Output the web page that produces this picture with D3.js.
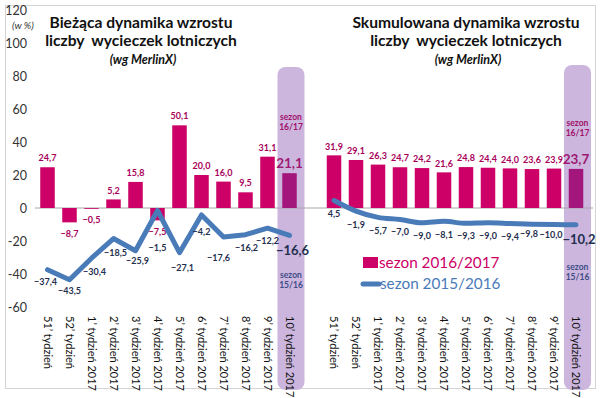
<!DOCTYPE html>
<html><head><meta charset="utf-8">
<script src="https://cdn.jsdelivr.net/npm/d3@7"></script>
<style>
html,body{margin:0;padding:0;background:#fff;}
svg{display:block;font-family:Lato,"Open Sans",sans-serif;}
text{white-space:pre;}
</style></head>
<body>
<svg id="chart" width="600" height="398"></svg>
<script>
const categories = ["51’ tydzień","52’ tydzień","1’ tydzień 2017","2’ tydzień 2017","3’ tydzień 2017","4’ tydzień 2017","5’ tydzień 2017","6’ tydzień 2017","7’ tydzień 2017","8’ tydzień 2017","9’ tydzień 2017","10’ tydzień 2017"];
const currentBars = [24.7,-8.7,-0.5,5.2,15.8,-7.5,50.1,20.0,16.0,9.5,31.1,21.1];
const currentLine = [-37.4,-43.5,-30.4,-18.5,-25.9,-1.5,-27.1,-4.2,-17.6,-16.2,-12.2,-16.6];
const cumulativeBars = [31.9,29.1,26.3,24.7,24.2,21.6,24.8,24.4,24.0,23.6,23.9,23.7];
const cumulativeLine = [4.5,-1.9,-5.7,-7.0,-9.0,-8.1,-9.3,-9.0,-9.4,-9.8,-10.0,-10.2];
const yTicks = [-60,-40,-20,0,20,40,60,80,100,120];
const seriesNames = ["sezon 2016/2017","sezon 2015/2016"];
const titlesLeft = ["Bieżąca dynamika wzrostu","liczby  wycieczek lotniczych","(wg MerlinX)"];
const titlesRight = ["Skumulowana dynamika wzrostu","liczby  wycieczek lotniczych","(wg MerlinX)"];
// label offsets relative to line points (px)
const leftLineLabelOffsets = [12,11,14,14,10,37,15,17,21,13,13,15];
const leftLineLabelDx = [-2,0,3,2,2,0,3,0,-5,1,0,3];
const rightLineLabelOffsets = [13,14,13,12,13,13,13,13,13,10,10,15];
const rightLineLabelDx = [0,0,0,0,0,0,0,0,0,-3,-3,3];

const BAR = "#cc0066", BAR_LAST = "#a3177c", BAND = "#ccb6de", LINE = "#4a7bb9";
const BAR_LBL = "#a8005a", LINE_LBL = "#1f2f4f", SEZ15 = "#3e4c86";

const svg = d3.select("#chart");
const fmt = v => d3.format(".1f")(v).replace(".", ",");

const y = d3.scaleLinear().domain([-60,120]).range([307,10]);
const xL = d3.scalePoint().domain(categories).range([47.5,289.5]);
const xR = d3.scalePoint().domain(categories).range([334,576]);
const barW = 14.5;

// outer border
svg.append("rect").attr("x",5.5).attr("y",5.5).attr("width",590).attr("height",383)
  .attr("fill","none").attr("stroke","#d4d4d4").attr("stroke-width",1);

// highlight bands
const last = categories[categories.length-1];
[[xL,67],[xR,65]].forEach(([x,top])=>{
  svg.append("rect").attr("x",x(last)-12).attr("y",top).attr("width",27).attr("height",390-top)
    .attr("rx",8).attr("fill",BAND);
});

// y axis
const ax = svg.append("g").attr("transform","translate(27,0)")
  .call(d3.axisLeft(y).tickValues(yTicks).tickSize(0).tickPadding(0).tickFormat(d=>d));
ax.select(".domain").remove();
ax.selectAll("text").attr("font-size",12.5).attr("fill","#333").attr("font-family","Lato,sans-serif");
svg.append("text").attr("x",23).attr("y",29).attr("text-anchor","middle").attr("font-size",10)
  .attr("font-style","italic").attr("fill","#333").text("(w %)");

// zero line
svg.append("line").attr("x1",35).attr("x2",593).attr("y1",y(0)).attr("y2",y(0))
  .attr("stroke","#a6a6a6").attr("stroke-width",1);

function drawPanel(x, bars, line, curve, titles, tcx, lineOffsets, lineDx, sez16y, sez15y){
  const g = svg.append("g");
  // titles
  g.append("text").attr("x",tcx).attr("y",28).attr("text-anchor","middle").attr("font-size",15.6)
    .attr("font-weight","bold").attr("fill","#111").text(titles[0]);
  g.append("text").attr("x",tcx).attr("y",46).attr("text-anchor","middle").attr("font-size",15.6)
    .attr("font-weight","bold").attr("fill","#111").text(titles[1]);
  g.append("text").attr("x",tcx+2).attr("y",64).attr("text-anchor","middle").attr("font-size",12.5)
    .attr("font-weight","bold").attr("font-style","italic").attr("fill","#111").text(titles[2]);
  // bars
  g.selectAll("rect.bar").data(bars).join("rect").attr("class","bar")
    .attr("x",(d,i)=>x(categories[i])-barW/2).attr("width",barW)
    .attr("y",d=>y(Math.max(0,d))).attr("height",d=>Math.abs(y(d)-y(0)))
    .attr("fill",(d,i)=>i===bars.length-1?BAR_LAST:BAR);
  // bar labels
  g.selectAll("text.bl").data(bars).join("text").attr("class","bl")
    .attr("x",(d,i)=>x(categories[i]))
    .attr("y",(d,i)=> d>=0 ? y(d)-(i===bars.length-1?10:9) : y(d)+11)
    .attr("dy","0.35em").attr("text-anchor","middle")
    .attr("font-size",(d,i)=>i===bars.length-1?13.5:9).attr("font-weight","bold")
    .attr("fill",(d,i)=>i===bars.length-1?"#9e1a72":BAR_LBL).text(fmt);
  // line
  const lg = d3.line().x((d,i)=>x(categories[i])).y(d=>y(d)).curve(curve);
  g.append("path").datum(line).attr("d",lg).attr("fill","none").attr("stroke",LINE)
    .attr("stroke-width",5).attr("stroke-linejoin","round").attr("stroke-linecap","round");
  // line labels
  g.selectAll("text.ll").data(line).join("text").attr("class","ll")
    .attr("x",(d,i)=>x(categories[i])+(lineDx?lineDx[i]:0))
    .attr("y",(d,i)=>y(d)+(lineOffsets?lineOffsets[i]:13))
    .attr("dy","0.35em").attr("text-anchor","middle")
    .attr("font-size",(d,i)=>i===line.length-1?13:9).attr("font-weight","bold")
    .attr("fill",LINE_LBL).text(fmt);
  // x labels
  g.selectAll("text.xl").data(categories).join("text").attr("class","xl")
    .attr("transform",d=>`translate(${x(d)},316) rotate(90)`)
    .attr("dy","0.35em").attr("font-size",11).attr("fill","#111").text(d=>d);
  // sezon labels in band
  const bx = x(last)+1.5;
  [["sezon",0],["16/17",10]].forEach(([t,o])=>g.append("text").attr("x",bx).attr("y",sez16y+o)
    .attr("dy","0.35em").attr("text-anchor","middle").attr("font-size",8.5).attr("font-weight","bold")
    .attr("fill","#a0106a").text(t));
  [["sezon",0],["15/16",10.5]].forEach(([t,o])=>g.append("text").attr("x",bx).attr("y",sez15y+o)
    .attr("dy","0.35em").attr("text-anchor","middle").attr("font-size",8.5).attr("font-weight","bold")
    .attr("fill",SEZ15).text(t));
}

drawPanel(xL, currentBars, currentLine, d3.curveLinear, titlesLeft, 141, leftLineLabelOffsets, leftLineLabelDx, 117, 275);
drawPanel(xR, cumulativeBars, cumulativeLine, d3.curveMonotoneX, titlesRight, 466, rightLineLabelOffsets, rightLineLabelDx, 123, 267);

// legend
const lgd = svg.append("g");
lgd.append("rect").attr("x",363).attr("y",257).attr("width",15).attr("height",11).attr("fill",BAR);
lgd.append("text").attr("x",379).attr("y",262.5).attr("dy","0.35em").attr("font-size",15.3)
  .attr("fill",BAR).text(seriesNames[0]);
lgd.append("line").attr("x1",363).attr("x2",379).attr("y1",284).attr("y2",284)
  .attr("stroke",LINE).attr("stroke-width",5).attr("stroke-linecap","round");
lgd.append("text").attr("x",380).attr("y",284).attr("dy","0.35em").attr("font-size",15.3)
  .attr("fill",LINE).text(seriesNames[1]);
</script>
</body></html>
